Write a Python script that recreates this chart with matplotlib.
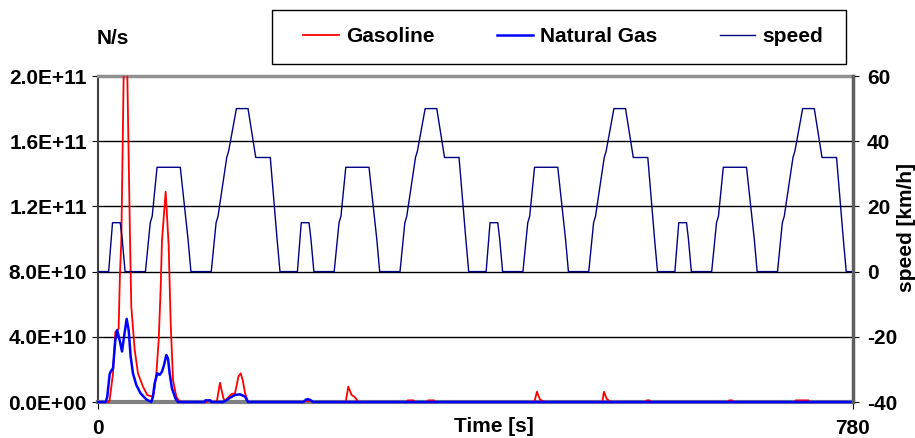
import numpy as np
import matplotlib.pyplot as plt
from matplotlib.patches import Rectangle

plt.rcParams["font.family"] = ["Liberation Sans", "DejaVu Sans"]
plt.rcParams["font.weight"] = "bold"
plt.rcParams["axes.unicode_minus"] = False

# gasoline particle emission, N/s
gas_t = [0, 11, 12, 15.5, 17.9, 21.3, 22.7, 24.1, 26.5, 28.4, 30.3, 33.1, 34.4,
         37.9, 41.3, 46.5, 50.9, 55.8, 57.8, 60.3, 62.7, 64.7, 66.1, 69.9, 73,
         75.1, 77.5, 80.9, 84, 86, 112, 113, 116, 117, 122.7, 126, 129.5, 131,
         134, 138, 141.5, 143.3, 145, 147.4, 149.5, 151.9, 155, 213, 214, 221,
         222, 255.9, 258.6, 262, 265.5, 269, 319, 320, 326, 327, 340, 341, 347,
         348, 450.8, 453.5, 456.6, 460, 462.4, 521, 522.7, 525.5, 529.6, 566,
         567, 570, 571, 651, 652, 655, 656, 720, 721, 734, 735, 780]
gas_v = [0, 0, 0.1, 1.76, 4.3, 4.5, 7.9, 9.9, 20, 27.5, 20, 9.9, 5.85,
         3.2, 1.76, 0.94, 0.43, 0.33, 0.55, 1.76, 3.8, 6.9, 9.9, 12.9, 9.6,
         4.8, 1.35, 0.33, 0.05, 0, 0, 0.08, 0.08, 0, 0, 1.18, 0.25, 0.05,
         0.25, 0.49, 0.53, 1.04, 1.55, 1.76, 1.35, 0.55, 0, 0, 0.05, 0.05,
         0, 0, 0.94, 0.43, 0.29, 0, 0, 0.1, 0.1, 0, 0, 0.1, 0.1,
         0, 0, 0.63, 0.15, 0.05, 0, 0, 0.63, 0.2, 0, 0,
         0.1, 0.1, 0, 0, 0.1, 0.1, 0, 0, 0.1, 0.1, 0, 0]

# natural gas particle emission, N/s
ng_t = [0, 8, 9.6, 12, 13.1, 15.5, 17.9, 19.9, 22.7, 24.8, 26.9, 29.6, 31.7,
        33.7, 36.1, 39.6, 44, 49.9, 55, 56.7, 58.5, 61.3, 63.7, 66.1, 68.2,
        70.6, 72.3, 74, 76.4, 79.9, 82.6, 110, 111, 116, 117, 129, 131, 136.4,
        141.5, 146.7, 151.9, 155, 212, 215, 217, 220, 222, 780]
ng_v = [0, 0, 0.33, 1.7, 1.86, 2.07, 3.8, 4.4, 3.7, 3.1, 4.0, 5.1, 4.4,
        2.8, 1.76, 1.04, 0.53, 0.16, 0, 0.3, 1.15, 1.76, 1.66, 1.86, 2.27,
        2.88, 2.68, 1.76, 0.84, 0.23, 0, 0, 0.1, 0.1, 0, 0, 0.05, 0.26,
        0.43, 0.47, 0.33, 0, 0, 0.15, 0.18, 0.1, 0, 0]

# vehicle speed, km/h
speed_t = [0, 11, 15, 23, 25, 28, 49, 54, 56, 61, 85, 93, 96, 117, 122, 124, 133, 135, 143, 155, 163, 176, 178, 185, 188,
           195, 206, 210, 218, 220, 223, 244, 249, 251, 256, 280, 288, 291, 312, 317, 319, 328, 330, 338, 350, 358, 371, 373, 380, 383,
           390, 401, 405, 413, 415, 418, 439, 444, 446, 451, 475, 483, 486, 507, 512, 514, 523, 525, 533, 545, 553, 566, 568, 575, 578,
           585, 596, 600, 608, 610, 613, 634, 639, 641, 646, 670, 678, 681, 702, 707, 709, 718, 720, 728, 740, 748, 761, 763, 770, 773,
           780]
speed_v = [0, 0, 15, 15, 10, 0, 0, 15, 17, 32, 32, 10, 0, 0, 15, 17, 35, 37, 50, 50, 35, 35, 35, 10, 0,
           0, 0, 15, 15, 10, 0, 0, 15, 17, 32, 32, 10, 0, 0, 15, 17, 35, 37, 50, 50, 35, 35, 35, 10, 0,
           0, 0, 15, 15, 10, 0, 0, 15, 17, 32, 32, 10, 0, 0, 15, 17, 35, 37, 50, 50, 35, 35, 35, 10, 0,
           0, 0, 15, 15, 10, 0, 0, 15, 17, 32, 32, 10, 0, 0, 15, 17, 35, 37, 50, 50, 35, 35, 35, 10, 0,
           0]

left_ticks = [0, 4e10, 8e10, 1.2e11, 1.6e11, 2e11]
right_ticks = [-40, -20, 0, 20, 40, 60]

fs = 15
fig = plt.figure(figsize=(9.15, 4.38), dpi=100)
ax = fig.add_axes([98 / 915, 36 / 438, 755 / 915, 326 / 438])

for y in left_ticks[1:-1]:
    ax.axhline(y, color="black", lw=1, zorder=1)

red, = ax.plot(gas_t, np.array(gas_v) * 1e10, color="#ff0000", lw=1.3, zorder=3, label="Gasoline")
clip = Rectangle((0, -0.03), 1, 1.03, transform=ax.transAxes, facecolor="none", edgecolor="none")
ax.add_patch(clip)
red.set_clip_path(clip)
blue, = ax.plot(ng_t, np.array(ng_v) * 1e10, color="#0000ff", lw=1.8, zorder=4,
                clip_on=False, label="Natural Gas")

ax.set_xlim(0, 780)
ax.set_ylim(0, 2e11)
ax.set_yticks(left_ticks)
ax.set_yticklabels(["%.1E" % v for v in left_ticks])
ax.set_xticks([0, 780])
ax.set_xticklabels(["0", "780"])
ax.tick_params(axis="y", direction="out", length=4, pad=4, labelsize=fs)
ax.tick_params(axis="x", direction="out", length=5, pad=7, labelsize=fs)
ax.set_xlabel("Time [s]", fontsize=fs, fontweight="bold")
ax.xaxis.set_label_coords(0.524, -0.045)

ax.spines["top"].set_color("#909090")
ax.spines["top"].set_linewidth(2.5)
ax.spines["bottom"].set_color("#808080")
ax.spines["bottom"].set_linewidth(3)
ax.spines["left"].set_color("#404040")
ax.spines["left"].set_linewidth(1.5)
ax.spines["right"].set_visible(False)

ax2 = ax.twinx()
spd, = ax2.plot(speed_t, speed_v, color="#000080", lw=1, label="speed")
ax2.set_ylim(-40, 60)
ax2.set_yticks(right_ticks)
ax2.tick_params(axis="y", direction="out", length=4, pad=6, labelsize=fs)
for s in ["top", "bottom", "left"]:
    ax2.spines[s].set_visible(False)
ax2.spines["right"].set_color("#606060")
ax2.spines["right"].set_linewidth(2.5)
ax2.set_ylabel("speed [km/h]", fontsize=fs, fontweight="bold")
ax2.yaxis.set_label_coords(1.071, 0.534)
ax2.yaxis.label.set_va("center")

fig.text(97 / 915, 1 - 38 / 438, "N/s", fontsize=fs, fontweight="bold", ha="left", va="center")

fig.patches.append(Rectangle((272 / 915, 1 - 64 / 438), 574 / 915, 54 / 438,
                             transform=fig.transFigure, facecolor="white",
                             edgecolor="black", lw=1))
fig.legend(handles=[red, blue, spd], loc="center left",
           bbox_to_anchor=(293 / 915, 1 - 37 / 438), ncol=3, frameon=False,
           borderpad=0, handlelength=1.7, handletextpad=0.35, columnspacing=3.0,
           prop={"size": fs, "weight": "bold"})

fig.savefig("out.png", dpi=100)
